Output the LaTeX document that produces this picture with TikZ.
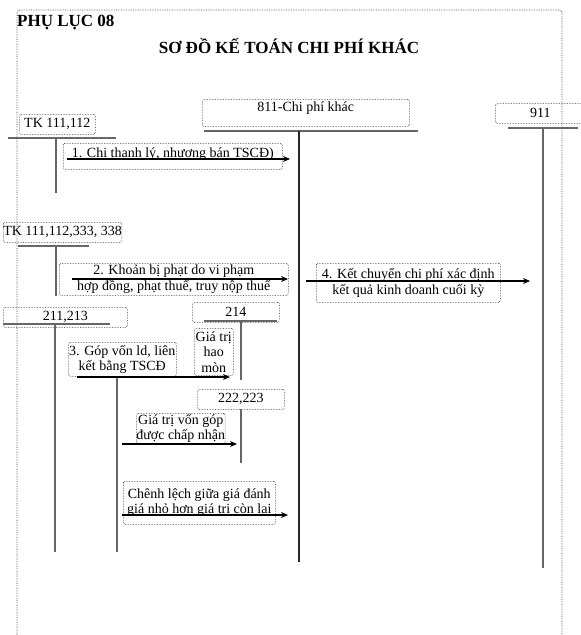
\documentclass[tikz,border=0pt]{standalone}
\usepackage{fontspec}
\setmainfont{Liberation Serif}
\usetikzlibrary{arrows.meta,positioning}
\tikzset{
    %Define standard arrow tip
    >={Stealth[length=7pt,width=6pt]},
    %Define style for dotted boxes
    acct/.style={
           rectangle,
           rounded corners=1.5pt,
           draw=black!85, densely dotted, semithick,
           inner sep=0pt,
           anchor=north west,
           font=\fontsize{14}{15.5}\selectfont,
           text centered},
    note/.style={acct, align=center},
    box/.style 2 args={minimum width=#1pt, minimum height=#2pt},
    % Define account lines
    tbar/.style={draw=black!60, line width=2pt},
    stem/.style={draw=black!60, line width=1.6pt},
    % Define arrow style
    pil/.style={->, line width=1.1pt, draw=black}
}

\begin{document}
\begin{tikzpicture}[x=1pt,y=-1pt]
\useasboundingbox (0,0) rectangle (581,635);

 %frame and titles
\draw[densely dotted, black!70, line width=0.7pt, rounded corners=3pt] (17,645) -- (17,10) -- (562,10) -- (562,645);
\node[anchor=base west, inner sep=0pt, font=\fontsize{17}{20}\selectfont\bfseries] (phuluc) at (17,26) {PHỤ LỤC 08};
\node[anchor=base, inner sep=0pt, font=\fontsize{17}{20}\selectfont\bfseries] (title) at (289,53) {SƠ ĐỒ KẾ TOÁN CHI PHÍ KHÁC};

 %accounts
\node[acct, box={76}{20}] (tk1) at (19,114) {TK 111,112};
\node[acct, box={207}{27}, text height=11pt, text depth=14pt] (k811) at (202,99) {811-Chi phí khác};
\node[acct, box={90}{20}] (k911) at (495,103) {911};
\node[acct, box={116}{20}] (tk2) at (3,222) {TK 111,112,333, 338};
\node[acct, box={124}{20}] (k211) at (3,307) {211,213};
\node[acct, box={87}{20}] (k214) at (192,302) {214};
\node[acct, box={87}{20}] (k222) at (197,389) {222,223};

 %T lines
\draw[tbar] (8,138) -- (116,138);
\draw[stem] (56,138) -- (56,193);
\draw[tbar] (204,131) -- (418,131);
\draw[stem, black!85, line width=1.2pt] (299,131) -- (299,562);
\draw[tbar] (508,128) -- (578,128);
\draw[stem] (543,128) -- (543,568);
\draw[tbar] (18,246) -- (89,246);
\draw[stem] (56,246) -- (56,296);
\draw[tbar] (3,324) -- (110,324);
\draw[stem] (55,324) -- (55,552);
\draw[stem] (117,376) -- (117,552);
\draw[tbar] (204,321) -- (277,321);
\draw[stem] (241,321) -- (241,380);
\draw[stem] (241,409) -- (241,463);

 %labels
\node[note, box={219}{26}, text height=10pt, text depth=7pt] (n1) at (63,143) {1. Chi thanh lý, nhượng bán TSCĐ)};
\node[note, box={229}{32}] (n2) at (59,263) {2. Khoản bị phạt do vi phạm\\hợp đồng, phạt thuế, truy nộp thuế};
\node[note, box={184}{39}] (n4) at (316,263) {4. Kết chuyển chi phí xác định\\kết quả kinh doanh cuối kỳ};
\node[note, box={108}{34}] (n3) at (68,342) {3. Góp vốn ld, liên\\kết bằng TSCĐ};
\node[note, box={39}{47}] (hm) at (194,328) {Giá trị\\hao\\mòn};
\node[note, box={88}{30}] (gop) at (136,413) {Giá trị vốn góp\\được chấp nhận};
\node[note, box={152}{43}] (chenh) at (123,481) {Chênh lệch giữa giá đánh\\giá nhỏ hơn giá trị còn lại};

 %arrows
\coordinate (a1) at (67,159);  \coordinate (b1) at (290,159);
\coordinate (a2) at (72,279);  \coordinate (b2) at (288,279);
\coordinate (a4) at (306,281); \coordinate (b4) at (530,281);
\coordinate (a3) at (77,377);  \coordinate (b3) at (230,377);
\coordinate (a5) at (122,444); \coordinate (b5) at (237,444);
\coordinate (a6) at (122,515); \coordinate (b6) at (288,515);
\draw[pil] (a1) -- (b1);
\draw[pil] (a2) -- (b2);
\draw[pil] (a4) -- (b4);
\draw[pil] (a3) -- (b3);
\draw[pil] (a5) -- (b5);
\draw[pil] (a6) -- (b6);
\end{tikzpicture}
\end{document}
